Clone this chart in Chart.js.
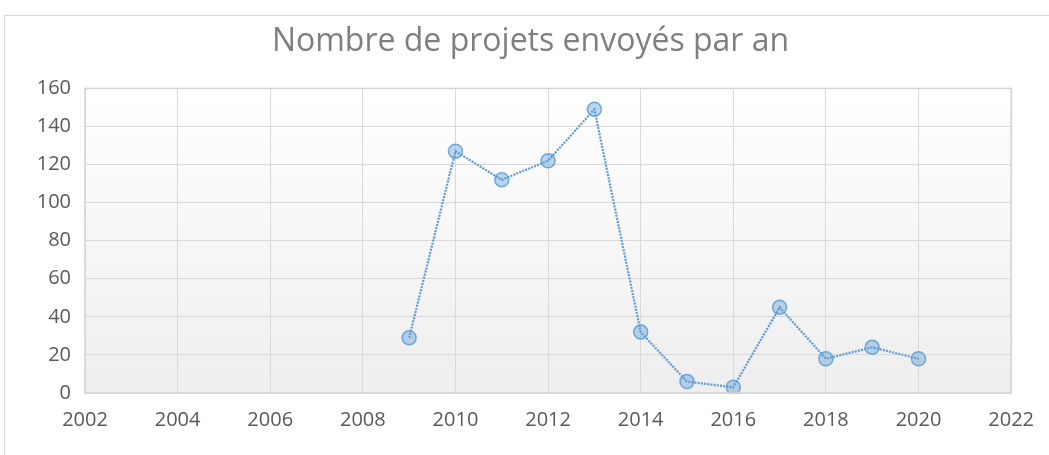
<!DOCTYPE html>
<html>
<head>
<meta charset="utf-8">
<script src="https://cdn.jsdelivr.net/npm/chart.js@4"></script>
<style>
  body { margin: 0; background: #fff; }
  #wrap { width: 1049px; height: 455px; position: relative; }
</style>
</head>
<body>
<div id="wrap"><canvas id="projChart" width="1049" height="455"></canvas></div>
<script>
const chartTitle = "Nombre de projets envoyés par an";
const years = [2009, 2010, 2011, 2012, 2013, 2014, 2015, 2016, 2017, 2018, 2019, 2020];
const projets = [29, 127, 112, 122, 149, 32, 6, 3, 45, 18, 24, 18];
const xTicks = [2002, 2004, 2006, 2008, 2010, 2012, 2014, 2016, 2018, 2020, 2022];
const yTicks = [0, 20, 40, 60, 80, 100, 120, 140, 160];

const FONT = "'Open Sans', sans-serif";

// plot area background (white -> light gray) + outer frame
const excelLook = {
    id: 'excelLook',
    beforeDraw(chart) {
        const ctx = chart.ctx;
        const a = chart.chartArea;
        ctx.save();
        ctx.strokeStyle = '#d9d9d9';
        ctx.lineWidth = 1;
        ctx.strokeRect(4.5, 15.5, 1100, 500);
        const g = ctx.createLinearGradient(0, a.top, 0, a.bottom);
        g.addColorStop(0, '#ffffff');
        g.addColorStop(1, '#eeeeee');
        ctx.fillStyle = g;
        ctx.fillRect(a.left, a.top, a.right - a.left, a.bottom - a.top);
        ctx.restore();
    },
    afterDatasetsDraw(chart) {
        const ctx = chart.ctx;
        const a = chart.chartArea;
        ctx.save();
        ctx.strokeStyle = '#d4d4d4';
        ctx.lineWidth = 1.5;
        ctx.strokeRect(a.left, a.top, a.right - a.left, a.bottom - a.top);
        ctx.restore();
    }
};

const ctx = document.getElementById('projChart').getContext('2d');
new Chart(ctx, {
    type: 'scatter',
    data: {
        datasets: [{
            label: 'Projets',
            data: years.map((y, i) => ({ x: y, y: projets[i] })),
            showLine: true,
            borderColor: '#5b9bd5',
            borderWidth: 2.2,
            borderDash: [2, 1.2],
            pointRadius: 7,
            pointBorderWidth: 1.5,
            pointBackgroundColor: 'rgba(91, 155, 213, 0.4)',
            pointBorderColor: 'rgba(91, 155, 213, 0.85)'
        }]
    },
    options: {
        responsive: false,
        animation: false,
        layout: { padding: { left: 24, right: 12, top: 0, bottom: 0 } },
        plugins: {
            legend: { display: false },
            tooltip: { enabled: false },
            title: {
                display: true,
                text: chartTitle,
                color: '#7f7f7f',
                font: { family: FONT, size: 32, weight: 'normal', lineHeight: 1.2 },
                padding: { top: 23, bottom: 27 }
            }
        },
        scales: {
            x: {
                type: 'linear',
                min: 2002,
                max: 2022,
                afterBuildTicks: s => { s.ticks = xTicks.map(v => ({ value: v })); },
                afterFit: s => { s.height = 62; },
                grid: { color: '#d9d9d9', lineWidth: 1, drawTicks: false },
                border: { display: false },
                ticks: {
                    color: '#595959',
                    padding: 15,
                    maxRotation: 0,
                    autoSkip: false,
                    font: { family: FONT, size: 20 },
                    callback: v => String(v)
                }
            },
            y: {
                min: 0,
                max: 160,
                afterBuildTicks: s => { s.ticks = yTicks.map(v => ({ value: v })); },
                afterFit: s => { s.width = 61; },
                grid: { color: '#d9d9d9', lineWidth: 1, drawTicks: false },
                border: { display: false },
                ticks: {
                    color: '#595959',
                    padding: 14,
                    autoSkip: false,
                    font: { family: FONT, size: 20 }
                }
            }
        }
    },
    plugins: [excelLook]
});
</script>
</body>
</html>
